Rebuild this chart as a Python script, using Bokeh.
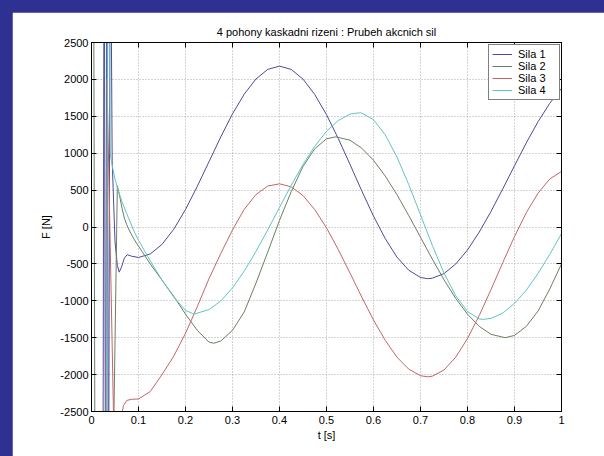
from bokeh.plotting import figure
from bokeh.models import (LinearAxis, Range1d, FixedTicker, Legend, LegendItem)
from bokeh.layouts import column
from bokeh.embed import file_html
from bokeh.resources import INLINE

title_text = "4 pohony kaskadni rizeni : Prubeh akcnich sil"
x_label = "t [s]"
y_label = "F [N]"
series_names = ["Sila 1", "Sila 2", "Sila 3", "Sila 4"]

x_ticks = [0, 0.1, 0.2, 0.3, 0.4, 0.5, 0.6, 0.7, 0.8, 0.9, 1.0]
x_tick_labels = ["0", "0.1", "0.2", "0.3", "0.4", "0.5", "0.6", "0.7", "0.8", "0.9", "1"]
y_ticks = [-2500, -2000, -1500, -1000, -500, 0, 500, 1000, 1500, 2000, 2500]
y_tick_labels = ["-2500", "-2000", "-1500", "-1000", "-500", "0", "500", "1000", "1500", "2000", "2500"]

# Sila 1
t1 = [0.024, 0.027, 0.030, 0.033, 0.036, 0.040, 0.044, 0.050, 0.055, 0.059, 0.064, 0.070,
      0.076, 0.085, 0.100, 0.125, 0.150, 0.175, 0.200, 0.225, 0.250, 0.275, 0.300, 0.325,
      0.350, 0.375, 0.400, 0.425, 0.450, 0.475, 0.500, 0.525, 0.550, 0.575, 0.600, 0.625,
      0.650, 0.675, 0.700, 0.715, 0.725, 0.750, 0.775, 0.800, 0.825, 0.850, 0.875, 0.900,
      0.925, 0.950, 0.975, 1.000]
f1 = [-5000, 5000, -5000, 5000, -5000, 5000, 900, -200, -520, -612, -540, -420,
      -375, -395, -413, -366, -236, -31, 237, 550, 885, 1220, 1533, 1801,
      2006, 2136, 2180, 2135, 2004, 1795, 1522, 1199, 848, 490, 147, -157,
      -409, -586, -684, -700, -694, -631, -501, -311, -69, 211, 517, 830,
      1139, 1426, 1676, 1878]

# Sila 2
t2 = [0.004, 0.008, 0.042, 0.055, 0.060, 0.065, 0.070, 0.075, 0.080, 0.090, 0.100,
      0.125, 0.150, 0.175, 0.200, 0.225, 0.250, 0.260, 0.275, 0.300, 0.325, 0.350,
      0.375, 0.400, 0.425, 0.450, 0.475, 0.500, 0.520, 0.550, 0.575, 0.600, 0.625,
      0.650, 0.675, 0.700, 0.725, 0.750, 0.775, 0.800, 0.825, 0.850, 0.880, 0.900,
      0.925, 0.950, 0.975, 1.000]
f2 = [5000, -5000, -5000, 560, 420, 250, 120, 30, -40, -160, -260,
      -500, -720, -940, -1180, -1400, -1560, -1575, -1545, -1400, -1150, -760,
      -340, 90, 480, 820, 1060, 1195, 1222, 1176, 1068, 904, 690,
      437, 155, -139, -433, -715, -968, -1182, -1346, -1454, -1500, -1469,
      -1347, -1140, -840, -500]

# Sila 3
t3 = [0.030, 0.033, 0.047, 0.063, 0.068, 0.075, 0.085, 0.100,
      0.125, 0.150, 0.175, 0.200, 0.225, 0.250, 0.275, 0.300, 0.325, 0.350, 0.375, 0.400,
      0.425, 0.450, 0.475, 0.500, 0.525, 0.550, 0.575, 0.600, 0.625, 0.650, 0.675, 0.700,
      0.715, 0.725, 0.750, 0.775, 0.800, 0.825, 0.850, 0.875, 0.900, 0.925, 0.950, 0.975,
      1.000]
f3 = [-5000, 2000, -2600, -2600, -2420, -2350, -2335, -2330,
      -2230, -2000, -1750, -1440, -1080, -700, -360, -40, 240, 440, 555, 585,
      544, 426, 236, -12, -305, -624, -949, -1260, -1536, -1765, -1926, -2015,
      -2030, -2022, -1938, -1763, -1511, -1200, -848, -483, -129, 193, 458, 650,
      753]

# Sila 4
t4 = [0.030, 0.036, 0.040, 0.045, 0.050, 0.058, 0.065, 0.075, 0.090, 0.100,
      0.125, 0.150, 0.175, 0.200, 0.218, 0.250, 0.275, 0.300, 0.325, 0.350, 0.375,
      0.400, 0.425, 0.450, 0.475, 0.500, 0.525, 0.550, 0.569, 0.575, 0.600, 0.625,
      0.650, 0.675, 0.700, 0.725, 0.750, 0.775, 0.800, 0.825, 0.833, 0.850, 0.875,
      0.900, 0.925, 0.950, 0.975, 1.000]
f4 = [-5000, 5000, 990, 800, 650, 470, 340, 180, -50, -180,
      -460, -720, -950, -1130, -1180, -1120, -1003, -825, -597, -330, -39,
      265, 566, 847, 1094, 1296, 1443, 1529, 1547, 1544, 1454, 1248,
      947, 574, 165, -247, -623, -933, -1146, -1245, -1252, -1238, -1167,
      -1036, -856, -630, -371, -90]

colors = ["#4b4b9b", "#6a7f62", "#c46464", "#62c3c3"]
FONT = "Liberation Sans"
BLUE = "#2f3192"

p = figure(frame_width=470, frame_height=369,
           x_range=Range1d(0, 1), y_range=Range1d(-2500, 2500),
           output_backend="svg", toolbar_location=None,
           min_border_left=79, min_border_right=43, min_border_top=30, min_border_bottom=45,
           margin=(12, 0, 0, 12), background_fill_color="white", border_fill_color="white")

p.title.text = title_text
p.title.align = "center"
p.title.text_font = FONT
p.title.text_font_size = "11px"
p.title.text_font_style = "normal"
p.title.text_color = "black"

p.outline_line_color = "black"
p.outline_line_width = 1

for ax in [p.xaxis[0], p.yaxis[0]]:
    ax.major_label_text_font = FONT
    ax.major_label_text_font_size = "11px"
    ax.major_label_text_color = "black"
    ax.axis_label_text_font = FONT
    ax.axis_label_text_font_size = "11px"
    ax.axis_label_text_font_style = "normal"
    ax.axis_label_text_color = "black"
    ax.major_tick_in = 5
    ax.major_tick_out = 0
    ax.minor_tick_line_color = None
    ax.axis_line_color = "black"
    ax.major_tick_line_color = "black"

p.xaxis.ticker = FixedTicker(ticks=x_ticks)
p.xaxis.major_label_overrides = {t: l for t, l in zip(x_ticks, x_tick_labels)}
p.yaxis.ticker = FixedTicker(ticks=y_ticks)
p.yaxis.major_label_overrides = {t: l for t, l in zip(y_ticks, y_tick_labels)}
p.xaxis.axis_label = x_label
p.yaxis.axis_label = y_label
p.xaxis.major_label_standoff = 4
p.xaxis.axis_label_standoff = 2
p.yaxis.major_label_standoff = 3
p.yaxis.axis_label_standoff = 5

# mirrored tick marks on the top and right edges of the box (no labels drawn)
top = LinearAxis(ticker=FixedTicker(ticks=x_ticks), major_label_text_color=None,
                 major_label_text_font_size="11px",
                 major_tick_in=5, major_tick_out=0, minor_tick_line_color=None,
                 axis_line_color="black", major_label_standoff=0)
right = LinearAxis(ticker=FixedTicker(ticks=y_ticks), major_label_text_color=None,
                   major_label_text_font_size="11px",
                   major_tick_in=5, major_tick_out=0, minor_tick_line_color=None,
                   axis_line_color="black", major_label_standoff=0)
p.add_layout(top, "above")
p.add_layout(right, "right")

p.xgrid.ticker = FixedTicker(ticks=x_ticks)
p.ygrid.ticker = FixedTicker(ticks=y_ticks)
p.grid.grid_line_color = "#a8a8a8"
p.grid.grid_line_dash = "1 2"
p.grid.grid_line_width = 1

renderers = []
for t, f, c in zip([t1, t2, t3, t4], [f1, f2, f3, f4], colors):
    r = p.line(t, f, line_color=c, line_width=1)
    renderers.append(r)

legend = Legend(items=[LegendItem(label=n, renderers=[r]) for n, r in zip(series_names, renderers)],
                location=(397, 311))
legend.label_text_font = FONT
legend.label_text_font_size = "11px"
legend.label_text_color = "black"
legend.border_line_color = "black"
legend.border_line_width = 1
legend.background_fill_color = "white"
legend.background_fill_alpha = 1
legend.padding = 3
legend.spacing = 0
legend.margin = 0
legend.glyph_width = 20
legend.glyph_height = 12
legend.label_height = 12
legend.label_width = 38
legend.label_standoff = 6
p.add_layout(legend)

page = column(p, styles={"background-color": BLUE})

open("out.html", "w").write(file_html(page, INLINE))
